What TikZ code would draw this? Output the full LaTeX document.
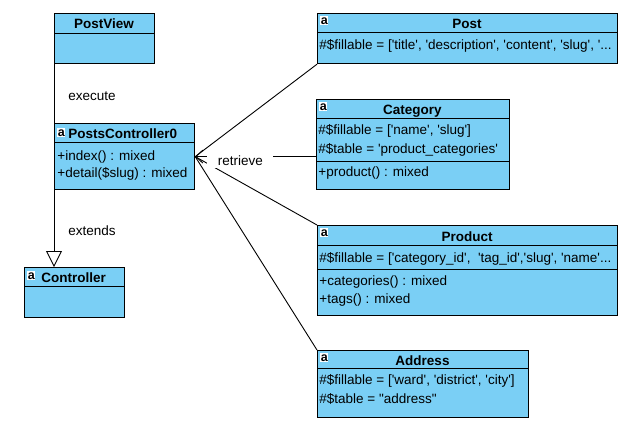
\documentclass[tikz,border=0pt]{standalone}
\usepackage{fontspec}
\newfontfamily\umlfont{Liberation Sans}
\usetikzlibrary{arrows.meta}
\definecolor{umlblue}{HTML}{7ACFF5}
\begin{document}
\begin{tikzpicture}[x=1pt,y=-1pt,line width=0.9pt,
  font=\umlfont\fontsize{13.5}{16}\selectfont,
  cls/.style={draw,fill=umlblue,anchor=north west,inner sep=0,line width=1.2pt},
  title/.style={font=\umlfont\bfseries\fontsize{13.5}{16}\selectfont,anchor=base,inner sep=0},
  attr/.style={anchor=base west,inner sep=0},
  icon/.style={fill=white,anchor=north west,inner sep=0,minimum width=8pt,minimum height=9pt,font=\umlfont\bfseries\fontsize{12.5}{10}\selectfont},
  lbl/.style={anchor=base west,inner sep=0}]
\useasboundingbox (0,0) rectangle (635,440);
% left column
\node[cls,minimum width=100pt,minimum height=50pt] (postview) at (54,13) {};
\draw ([yshift=-20pt]postview.north west) -- ([yshift=-20pt]postview.north east);
\node[title] (postview-t) at (104,28) {PostView};
\node[cls,minimum width=140pt,minimum height=66pt] (ctrl) at (54,123) {};
\draw ([yshift=-19pt]ctrl.north west) -- ([yshift=-19pt]ctrl.north east);
\node[icon] (ctrl-i) at (57,128) {a};
\node[title,anchor=base west] (ctrl-t) at (68,138) {PostsController0};
\node[attr] (ctrl-a1) at (57,160) {+index() : mixed};
\node[attr] (ctrl-a2) at (57,177) {+detail(\$slug) : mixed};
\node[cls,minimum width=100pt,minimum height=50pt] (controller) at (24,267) {};
\draw ([yshift=-19pt]controller.north west) -- ([yshift=-19pt]controller.north east);
\node[icon] (controller-i) at (27,271) {a};
\node[title,anchor=base west] (controller-t) at (41,282) {Controller};
% right column
\node[cls,minimum width=300pt,minimum height=50pt] (post) at (317,13) {};
\draw ([yshift=-19pt]post.north west) -- ([yshift=-19pt]post.north east);
\node[icon] (post-i) at (320,16) {a};
\node[title] (post-t) at (467,28) {Post};
\node[attr] (post-a1) at (319,49) {\#\$fillable = ['title', 'description', 'content', 'slug', '...};
\node[cls,minimum width=193pt,minimum height=90pt] (category) at (316,99) {};
\draw ([yshift=-19pt]category.north west) -- ([yshift=-19pt]category.north east);
\draw ([yshift=-62pt]category.north west) -- ([yshift=-62pt]category.north east);
\node[icon] (category-i) at (319,102) {a};
\node[title] (category-t) at (412.5,114) {Category};
\node[attr] (category-a1) at (318,134) {\#\$fillable = ['name', 'slug']};
\node[attr] (category-a2) at (318,153) {\#\$table = 'product\_categories'};
\node[attr] (category-o1) at (318,176) {+product() : mixed};
\node[cls,minimum width=300pt,minimum height=90pt] (product) at (317,225) {};
\draw ([yshift=-20pt]product.north west) -- ([yshift=-20pt]product.north east);
\draw ([yshift=-44pt]product.north west) -- ([yshift=-44pt]product.north east);
\node[icon] (product-i) at (320,228) {a};
\node[title] (product-t) at (467,241) {Product};
\node[attr] (product-a1) at (319,262) {\#\$fillable = ['category\_id',\ \ 'tag\_id','slug', 'name'...};
\node[attr] (product-o1) at (319,285) {+categories() : mixed};
\node[attr] (product-o2) at (319,303) {+tags() : mixed};
\node[cls,minimum width=211pt,minimum height=67pt] (address) at (317,350) {};
\draw ([yshift=-18pt]address.north west) -- ([yshift=-18pt]address.north east);
\node[icon] (address-i) at (320,353) {a};
\node[title] (address-t) at (422.5,365) {Address};
\node[attr] (address-a1) at (319,384) {\#\$fillable = ['ward', 'district', 'city']};
\node[attr] (address-a2) at (319,403) {\#\$table = "address"};
% connectors
\draw (postview.south west) -- (ctrl.north west);
\draw[-{Triangle[open,length=16pt,width=16pt]}] (ctrl.south west) -- (ctrl.south west |- controller.north);
\draw (post.south west) -- (ctrl.east);
\draw (product.north west) -- (ctrl.east);
\draw (address.north west) -- (ctrl.east);
\draw[-{Straight Barb[length=7pt,width=13pt]}] (ctrl.east -| category.west) -- (ctrl.east);
\node[lbl] (execute) at (68,100) {execute};
\node[lbl] (extends) at (68,235) {extends};
\node[lbl,fill=white,inner xsep=8pt,inner ysep=3pt,minimum width=66pt] (retrieve) at (207,165) {retrieve};
\end{tikzpicture}
\end{document}
